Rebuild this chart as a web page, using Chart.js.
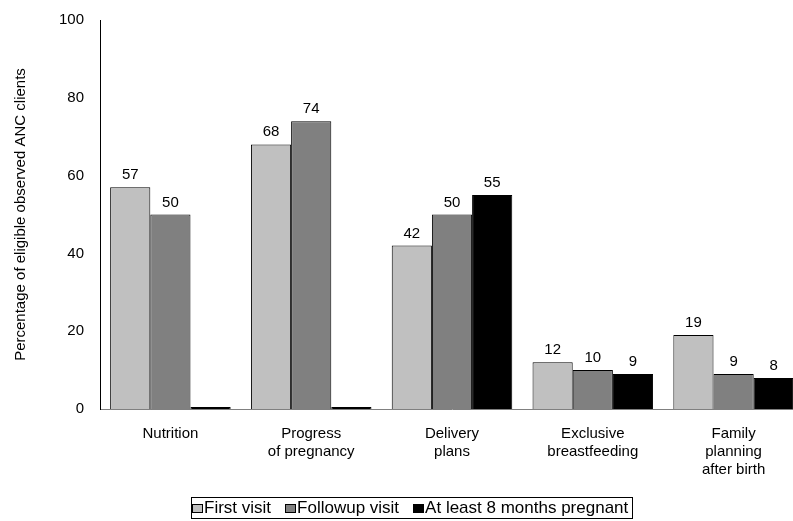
<!DOCTYPE html>
<html>
<head>
<meta charset="utf-8">
<script src="https://cdn.jsdelivr.net/npm/chart.js@4/dist/chart.umd.min.js"></script>
<style>
  html, body { margin: 0; padding: 0; background: #fff; overflow: hidden; }
  #wrap { position: relative; width: 793px; height: 521px; overflow: hidden; }
  #legend {
    position: absolute; left: 191px; top: 497px; width: 440px; height: 20px;
    border: 1px solid #000; display: flex; align-items: center;
    font: 17px "Liberation Sans", Arial, sans-serif; color: #000; white-space: nowrap;
  }
  #legend span.box { display: inline-block; width: 9px; height: 7px; border: 1px solid #000; margin: 0 1px 0 0; }
  #legend span.item { margin-right: 14px; display: inline-flex; align-items: center; }
  #legend span.item:last-child { margin-right: 0; }
</style>
</head>
<body>
<div id="wrap">
  <!-- canvas is wider than the picture: the plot area runs past the right edge -->
  <canvas id="chart" width="805" height="521"></canvas>
  <div id="legend"></div>
</div>
<script>
// --- Data ---
const categories = ['Nutrition', ['Progress', 'of pregnancy'], ['Delivery', 'plans'], ['Exclusive', 'breastfeeding'], ['Family', 'planning', 'after birth']];
const seriesNames = ['First visit', 'Followup visit', 'At least 8 months pregnant'];
const firstVisit = [57, 68, 42, 12, 19];
const followupVisit = [50, 74, 50, 10, 9];
const lateVisit = [0, 0, 55, 9, 8];
const yTicks = [0, 20, 40, 60, 80, 100];

const colors = ['#c0c0c0', '#808080', '#000000'];
const FONT = '"Liberation Sans", Arial, sans-serif';

// draws the value above each bar (zero values are not labelled)
const valueLabels = {
    id: 'valueLabels',
    afterDatasetsDraw(chart) {
        const ctx = chart.ctx;
        ctx.save();
        ctx.font = '15px ' + FONT;
        ctx.fillStyle = '#000';
        ctx.textAlign = 'center';
        ctx.textBaseline = 'alphabetic';
        chart.data.datasets.forEach((ds, i) => {
            chart.getDatasetMeta(i).data.forEach((bar, j) => {
                if (!ds.data[j]) return;
                ctx.fillText(ds.data[j], bar.x, bar.y - 8);
            });
        });
        ctx.restore();
    }
};

const chart = new Chart(document.getElementById('chart').getContext('2d'), {
    type: 'bar',
    data: {
        labels: categories,
        datasets: [
            { label: seriesNames[0], data: firstVisit, backgroundColor: colors[0] },
            { label: seriesNames[1], data: followupVisit, backgroundColor: colors[1] },
            { label: seriesNames[2], data: lateVisit, backgroundColor: colors[2], minBarLength: 2 },
        ].map(d => Object.assign(d, { borderColor: '#000', borderWidth: 1, borderSkipped: 'start' })),
    },
    options: {
        responsive: false,
        animation: false,
        layout: { padding: { top: 20, right: 1, left: 0, bottom: 0 } },
        categoryPercentage: 0.856,
        barPercentage: 1,
        plugins: {
            legend: { display: false },
            tooltip: { enabled: false },
        },
        scales: {
            x: {
                grid: { display: false },
                border: { display: true, color: '#808080', width: 1 },
                ticks: { color: '#000', font: { family: FONT, size: 15 }, padding: 8, maxRotation: 0, autoSkip: false },
                afterFit(scale) { scale.height = 112; },
            },
            y: {
                min: 0,
                max: 100,
                afterBuildTicks(scale) { scale.ticks = yTicks.map(v => ({ value: v })); },
                grid: { display: false },
                border: { display: true, color: '#000', width: 1 },
                ticks: { color: '#000', font: { family: FONT, size: 15 }, padding: 8 },
                title: {
                    display: true,
                    text: 'Percentage of eligible observed ANC clients',
                    color: '#000',
                    font: { family: FONT, size: 15 },
                    padding: { top: 12, bottom: 0 },
                },
                afterFit(scale) { scale.width = 100; },
            },
        },
    },
    plugins: [valueLabels],
});

// HTML legend built from the chart's datasets
document.getElementById('legend').innerHTML = chart.data.datasets.map(ds =>
    '<span class="item"><span class="box" style="background:' + ds.backgroundColor + '"></span>' + ds.label + '</span>'
).join('');
</script>
</body>
</html>
